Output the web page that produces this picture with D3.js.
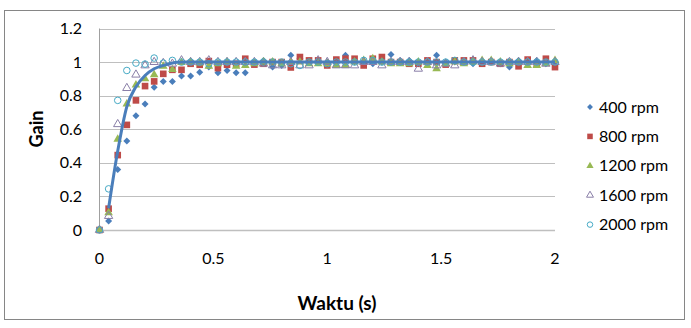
<!DOCTYPE html>
<html>
<head>
<meta charset="utf-8">
<script src="https://cdn.jsdelivr.net/npm/d3@7"></script>
<style>
body { margin:0; background:#fff; }
text { font-family: Lato, "Open Sans", sans-serif; fill:#000; }
</style>
</head>
<body>
<script>
var waktu = [0,0.04,0.08,0.12,0.16,0.2,0.24,0.28,0.32,0.36,0.4,0.44,0.48,0.52,0.56,0.6,0.64,0.68,0.72,0.76,
	0.8,0.84,0.88,0.92,0.96,1,1.04,1.08,1.12,1.16,1.2,1.24,1.28,1.32,1.36,1.4,1.44,1.48,1.52,1.56,
	1.6,1.64,1.68,1.72,1.76,1.8,1.84,1.88,1.92,1.96,2];

var rpm400 = [0,0.053,0.36,0.53,0.68,0.75,0.85,0.885,0.885,0.917,0.917,0.94,0.97,0.937,0.95,0.937,0.937,1.0,1.01,0.97,
	0.98,1.04,1.02,1.0,1.0,1.0,1.0,1.04,1.0,0.99,0.99,1.0,1.045,1.01,1.01,0.99,1.0,1.04,1.0,1.0,
	1.0,0.99,1.0,1.01,0.99,0.97,1.01,1.0,1.01,0.99,1.0];
var rpm800 = [0,0.127,0.446,0.626,0.772,0.857,0.885,0.93,0.954,0.954,0.99,0.984,1.006,0.964,0.984,0.99,1.02,0.985,0.99,1.0,
	1.0,0.968,1.03,1.01,1.01,0.98,1.015,1.02,1.02,0.98,1.02,1.03,1.0,1.0,0.99,0.99,1.01,1.0,0.985,1.01,
	1.01,1.01,0.99,1.0,0.99,1.0,0.975,1.015,0.985,1.02,0.97];
var rpm1200 = [0,0.103,0.54,0.75,0.863,0.9,0.925,0.975,0.955,0.998,1.0,0.994,0.975,0.99,1.0,0.975,0.98,0.99,1.0,1.0,
	0.99,1.0,1.0,0.99,0.99,0.99,0.98,0.98,1.0,1.01,1.02,1.0,0.99,0.99,0.99,1.0,0.98,0.96,0.99,1.0,
	0.99,1.0,1.01,1.01,1.0,0.99,1.0,0.98,0.98,0.99,1.01];
var rpm1600 = [0,0.083,0.63,0.845,0.925,0.98,1.0,0.994,0.99,1.01,1.0,1.0,1.01,1.0,1.0,1.0,1.0,1.0,0.99,0.98,
	0.98,1.0,0.98,0.98,1.01,1.0,0.98,0.98,0.98,1.0,1.0,0.98,1.0,1.0,1.0,0.96,1.0,0.98,0.99,0.98,
	1.0,1.01,1.0,1.0,0.99,1.0,1.0,1.0,1.0,0.99,1.0];
var rpm2000 = [0,0.245,0.772,0.95,0.994,0.988,1.024,0.994,1.01,1.0,1.0,1.0,0.99,1.0,1.0,1.0,1.0,1.0,1.0,1.0,
	1.0,0.99,0.98,1.0,1.0,0.99,1.0,1.0,1.0,1.01,1.01,1.0,1.0,1.0,1.0,1.0,1.0,1.0,1.0,1.01,
	1.0,1.0,1.0,1.0,1.0,1.0,1.0,1.0,1.0,1.0,1.0];
// fitted response, drawn as smooth line from 0.04 s
var model = [null,0.13,0.47,0.735,0.853,0.92,0.96,0.98,0.995,1,1,1,1,1,1,1,1,1,1,1,
	1,1,1,1,1,1,1,1,1,1,1,1,1,1,1,1,1,1,1,1,
	1,1,1,1,1,1,1,1,1,1,1];

var seriesNames = ['400 rpm','800 rpm','1200 rpm','1600 rpm','2000 rpm'];
var xTicks = [0,0.5,1,1.5,2];
var yTicks = [0,0.2,0.4,0.6,0.8,1,1.2];

var diamond = {draw:function(ctx,size){
	var r = Math.sqrt(size)/2*1.2;
	ctx.moveTo(0,-r);ctx.lineTo(r,0);ctx.lineTo(0,r);ctx.lineTo(-r,0);ctx.closePath();
}};

var styles = [
	{data:rpm400, type:diamond, size:34, fill:'#4a7ebb', stroke:'none'},
	{data:rpm800, type:d3.symbolSquare, size:44, fill:'#be4b48', stroke:'none'},
	{data:rpm1200, type:d3.symbolTriangle, size:32, fill:'#98b954', stroke:'none'},
	{data:rpm1600, type:d3.symbolTriangle, size:30, fill:'none', stroke:'#8a7fa8'},
	{data:rpm2000, type:d3.symbolCircle, size:34, fill:'none', stroke:'#46aac5'}
];

var svg = d3.select('body').append('svg')
	.attr('width',691).attr('height',328);

svg.append('rect')
	.attr('x',4.5).attr('y',10.5).attr('width',680).attr('height',309)
	.attr('fill','#fff').attr('stroke','#868686');

var x = d3.scaleLinear().domain([0,2]).range([99.5,555]);
var y = d3.scaleLinear().domain([0,1.2]).range([230,28.5]);

var grid = svg.append('g');
grid.selectAll('line').data(yTicks).enter().append('line')
	.attr('x1',x(0)).attr('x2',x(2))
	.attr('y1',function(d){return Math.round(y(d))+0.5})
	.attr('y2',function(d){return Math.round(y(d))+0.5})
	.attr('stroke','#bfbfbf').attr('stroke-width',function(d){return d===0?1.5:1});
grid.append('line')
	.attr('x1',99.5).attr('x2',99.5).attr('y1',y(1.2)).attr('y2',y(0))
	.attr('stroke','#a0a0a0');

svg.append('g').selectAll('text').data(yTicks).enter().append('text')
	.attr('x',82).attr('y',function(d){return y(d)})
	.attr('dy','0.35em').attr('text-anchor','end')
	.style('font-size','16px')
	.text(function(d){return d});

svg.append('g').selectAll('text').data(xTicks).enter().append('text')
	.attr('x',function(d){return x(d)}).attr('y',258)
	.attr('dy','0.35em').attr('text-anchor','middle')
	.style('font-size','16px')
	.text(function(d){return d});

svg.append('text')
	.attr('transform','translate(37,129) rotate(-90)')
	.attr('text-anchor','middle').attr('dy','0.35em')
	.style('font-size','18px').style('font-weight','bold')
	.text('Gain');

svg.append('text')
	.attr('x',337).attr('y',303)
	.attr('text-anchor','middle').attr('dy','0.35em')
	.style('font-size','19px').style('font-weight','bold')
	.text('Waktu (s)');

var plot = svg.append('g');
styles.forEach(function(s){
	var sym = d3.symbol().type(s.type).size(s.size);
	plot.append('g').selectAll('path')
		.data(s.data).enter().append('path')
		.attr('d',sym)
		.attr('transform',function(d,i){return 'translate('+x(waktu[i])+','+y(d)+')'})
		.attr('fill',s.fill).attr('stroke',s.stroke).attr('stroke-width',1);
});

var line = d3.line()
	.defined(function(d){return d!==null})
	.x(function(d,i){return x(waktu[i])})
	.y(function(d){return y(d)})
	.curve(d3.curveMonotoneX);
plot.append('path')
	.datum(model)
	.attr('d',line)
	.attr('fill','none').attr('stroke','#4a7ebb').attr('stroke-width',3);

var legend = svg.append('g');
styles.forEach(function(s,i){
	var ly = 107 + i*29.4;
	legend.append('path')
		.attr('d',d3.symbol().type(s.type).size(s.size*0.7))
		.attr('transform','translate(590,'+ly+')')
		.attr('fill',s.fill).attr('stroke',s.stroke);
	legend.append('text')
		.attr('x',599).attr('y',ly).attr('dy','0.35em')
		.style('font-size','16px')
		.text(seriesNames[i]);
});
</script>
</body>
</html>
